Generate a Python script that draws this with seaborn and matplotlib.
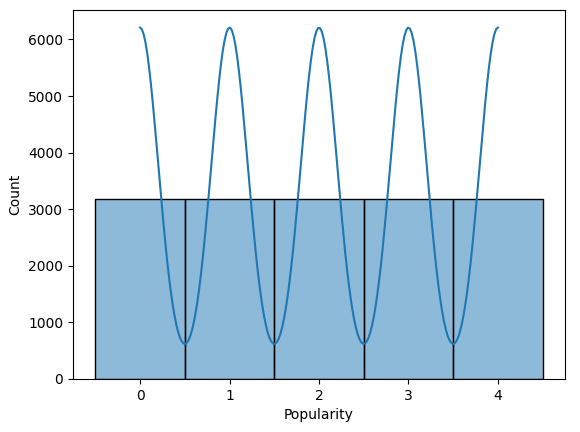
import numpy as np
import pandas as pd
import matplotlib
matplotlib.use("Agg")
import matplotlib.pyplot as plt
import seaborn as sns

categories = [0, 1, 2, 3, 4]
counts = [3180, 3180, 3180, 3180, 3180]

df = pd.DataFrame({"Popularity": np.repeat(categories, counts)})

fig, ax = plt.subplots(figsize=(5.8, 4.32), dpi=100)
fig.subplots_adjust(left=73/580, right=565/580, top=1-10/432, bottom=1-379/432)
sns.histplot(data=df, x="Popularity", discrete=True, kde=True, ax=ax, edgecolor="black")
fig.savefig("out.png", dpi=100)
